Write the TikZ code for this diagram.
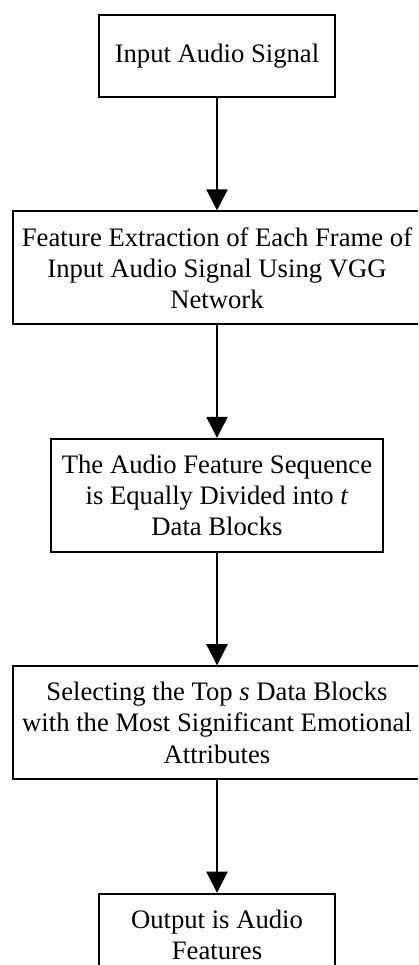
\documentclass[tikz,border=0pt]{standalone}
\usepackage{fontspec}
\setmainfont{Liberation Serif}
\usepackage{tikz}
\usetikzlibrary{positioning, arrows.meta}

\begin{document}
\begin{tikzpicture}[
      x=0.45pt, y=-0.45pt, node distance=50.6pt,
      procbox/.style={rectangle, draw=black, line width=0.9pt, inner sep=0pt, align=center,
        font=\fontsize{12}{14}\selectfont, text=black, minimum width=#1},
      flowarrow/.style={->, line width=0.9pt, color=black, >={Triangle[length=9.5pt, width=9.5pt]}}
    ]
    \useasboundingbox (0,0) rectangle (418,965);
    \clip (0,0) rectangle (418,965);
    % Boxes, top to bottom
    \node[procbox=106.2pt, minimum height=36.9pt] (input) at (217,56) {Input Audio Signal};
    \node[procbox=183.6pt, minimum height=50.85pt, below=of input] (extract)
      {Feature Extraction of Each Frame of\\Input Audio Signal Using VGG\\Network};
    \node[procbox=149pt, minimum height=50.85pt, below=of extract] (divide)
      {The Audio Feature Sequence\\is Equally Divided into \textit{t}\\Data Blocks};
    \node[procbox=183.6pt, minimum height=50.85pt, below=of divide] (select)
      {Selecting the Top \textit{s} Data Blocks\\with the Most Significant Emotional\\Attributes};
    \node[procbox=106.2pt, minimum height=36.9pt, below=of select] (output)
      {Output is Audio\\Features};
    % Connectors
    \draw[flowarrow] (input) -- (extract);
    \draw[flowarrow] (extract) -- (divide);
    \draw[flowarrow] (divide) -- (select);
    \draw[flowarrow] (select) -- (output);
\end{tikzpicture}
\end{document}
